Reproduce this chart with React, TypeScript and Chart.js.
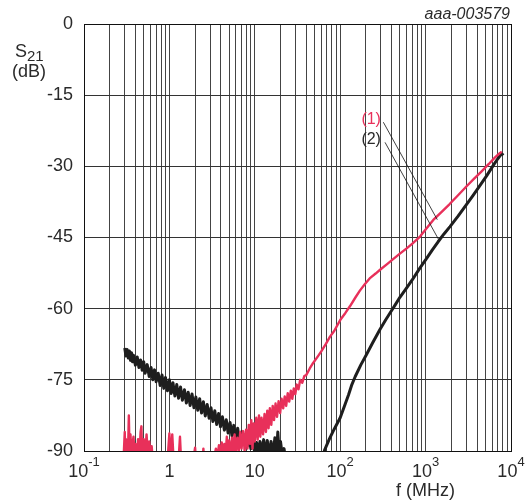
import { useEffect, useRef } from 'react';
import { Chart, registerables } from 'chart.js';

Chart.register(...registerables);

const FONT = '"Liberation Sans", Arial, Helvetica, sans-serif';
const RED = '#e8305a';
const BLACK = '#1e1e1e';
const GRID = '#444444';
const TEXT = '#2a2a2a';

// axis ticks
const yTicks = [0, -15, -30, -45, -60, -75, -90];
const xMajor = [0.1, 1, 10, 100, 1000, 10000];
const xTickBase = ['10', '1', '10', '10', '10', '10'];
const xTickExp = ['-1', '', '', '2', '3', '4'];
const xMinorMultipliers = [2, 3, 4, 5, 6, 7, 8, 9];

// curve (1): frequency (MHz) and S21 (dB)
const curve1Freq = [
  0.29, 0.3, 0.305, 0.31, 0.315, 0.32, 0.327, 0.335, 0.342, 0.35, 0.36, 0.37, 0.38, 0.39, 0.4,
  0.415, 0.43, 0.445, 0.46, 0.47, 0.48, 0.5, 0.52, 0.54, 0.56, 0.58, 0.6, 0.62, 0.64,
  0.95, 1.0, 1.03, 1.08, 1.12, 1.28, 1.33, 1.37, 1.9, 2.0, 2.05, 2.45, 2.5, 2.55,
  3.3, 3.5, 3.6, 3.8, 3.9, 4.1, 4.25, 4.4, 4.55, 4.7, 4.85, 5.0, 5.2, 5.4, 5.6, 5.8, 6.0,
  6.25, 6.5, 6.75, 7.0, 7.3, 7.6, 7.9, 8.2, 8.5, 8.8, 9.1, 9.4, 9.7, 10.0, 10.4, 10.8,
  11.2, 11.6, 12.0, 12.5, 13.0, 13.5, 14.0, 14.5, 15.0, 15.6, 16.2, 16.8, 17.5, 18.2,
  19.0, 19.8, 20.6, 21.5, 22.4, 23.3, 24.3, 25.3, 26.4, 27.5, 28.6, 29.8, 31.0, 32.5,
  34, 36, 38, 40, 44, 48, 55, 60, 68, 76, 85, 100, 115, 130, 150, 170, 195, 225, 260, 293,
  360, 420, 500, 600, 700, 860, 1000, 1230, 1500, 1900, 2400, 3020, 3700, 4500, 5500,
  6500, 7200, 7800,
];
const curve1Db = [
  -92, -86.0, -91, -87.5, -92, -88.0, -91, -82.5, -91, -86.5, -91, -88.5, -87.0, -91, -88.5,
  -91, -87.5, -91, -86.0, -84.8, -91, -87.5, -91, -86.5, -91, -88.0, -91, -89.0, -92,
  -92, -86.3, -92, -86.5, -92, -92, -87.0, -92, -92, -89.3, -92, -92, -89.5, -92,
  -92, -89.5, -92, -88.8, -91.5, -88.2, -91, -88.5, -91, -87.0, -90.5, -87.8, -91, -87.2, -90, -86.5, -90.5,
  -87.2, -90, -86.0, -89.5, -85.8, -90, -85.5, -89.5, -84.5, -88.5, -83.5, -89.5, -84.2, -88.0, -83.0, -87.6,
  -82.5, -87.0, -83.0, -86.5, -82.2, -86.0, -81.5, -85.2, -81.0, -84.5, -80.5, -83.5, -80.0, -82.8,
  -79.5, -82.0, -79.0, -81.0, -78.5, -80.5, -77.8, -79.6, -77.3, -79.0, -76.8, -78.0, -76.0, -77.0,
  -75.0, -75.6, -74.2, -74.0, -72.6, -71.5, -70.0, -69.0, -67.4, -65.9, -64.7, -62.4, -60.9, -59.5, -57.7, -56.2, -54.8, -53.5, -52.6, -51.8,
  -50.5, -49.5, -48.4, -47.3, -46.3, -44.8, -43.3, -41.3, -39.8, -38.0, -36.1, -34.2, -32.6, -31.1, -29.5,
  -28.1, -27.4, -26.9,
];

// curve (2): frequency (MHz) and S21 (dB); null = below the axis range
const curve2Freq = [
  0.3, 0.31, 0.32, 0.33, 0.34, 0.35, 0.36, 0.37, 0.38, 0.4, 0.42, 0.44, 0.46, 0.48, 0.5, 0.52,
  0.55, 0.58, 0.61, 0.64, 0.67, 0.7, 0.74, 0.78, 0.82, 0.86, 0.9, 0.95, 1.0, 1.05, 1.1, 1.16,
  1.22, 1.28, 1.35, 1.42, 1.5, 1.58, 1.66, 1.75, 1.84, 1.94, 2.04, 2.15, 2.26, 2.38, 2.5, 2.63,
  2.77, 2.92, 3.07, 3.23, 3.4, 3.58, 3.77, 3.97, 4.18, 4.4, 4.63, 4.87, 5.13, 5.4, 5.68, 5.98,
  6.3, 6.63, 6.98, 7.35, 7.74, 8.15, 8.6, 9.0, 9.5, 10, 10.5, 11, 11.5, 12, 12.7, 13.3, 14,
  14.8, 15.5, 16.3, 17.2, 18, 18.6, 19.3, 20, 21, 22, 23, 40,
  60, 66, 75, 85, 100, 115, 125, 137, 150, 175, 204, 240, 292, 340, 400, 437, 500, 600, 700,
  860, 1028, 1200, 1400, 1650, 1930, 2400, 3020, 3600, 4300, 5180, 6200, 7000, 7770, 8100,
];
const curve2Db = [
  -68.3, -70.0, -68.6, -70.4, -68.9, -70.9, -69.3, -71.2, -69.8, -71.9, -70.2, -72.4, -70.8, -73.0, -71.2, -73.6,
  -71.8, -74.3, -72.4, -75.0, -72.9, -75.4, -73.6, -76.2, -74.0, -76.8, -74.5, -77.3, -75.0, -77.9, -75.6, -78.4,
  -76.0, -78.9, -76.5, -79.3, -77.1, -79.9, -77.6, -80.4, -78.0, -80.9, -78.6, -81.4, -79.0, -82.0, -79.6, -82.6,
  -80.2, -83.1, -80.9, -83.8, -81.5, -84.4, -82.1, -84.9, -82.8, -85.6, -83.4, -86.2, -84.0, -86.8, -84.6, -87.4,
  -85.2, -88.0, -86.0, -88.5, -86.6, -89.0, -87.5, -89.5, -87.8, -90.5, -88.2, -91, -88.0, -90.5, -87.6, -90.8, -87.8,
  -91, -88.0, -91, -87.2, -90.5, -86.0, -90.5, -88.0, -91, -89.5, -92, null,
  -92, -89.7, -87.4, -85.4, -83.0, -80.0, -78.2, -76.0, -74.3, -71.8, -69.6, -67.2, -64.4, -62.4, -60.4, -59.3, -57.6, -55.6, -53.9,
  -51.4, -49.4, -47.6, -45.9, -44.2, -42.7, -40.5, -38.0, -36.1, -34.1, -32.0, -29.8, -28.4, -27.3, -27.7,
];

// curve labels with leader lines (data coordinates)
const labelTexts = ['(1)', '(2)'];
const labelColors = [RED, TEXT];
const labelFreq = [300, 300];
const labelDb = [-20.2, -24.4];
const leaderStartFreq = [320, 335];
const leaderStartDb = [-20.7, -24.95];
const leaderEndFreq = [1371, 1408];
const leaderEndDb = [-41.25, -45.3];

const figureId = 'aaa-003579';

const gridValues: number[] = [];
xMajor.forEach((d, i) => {
  gridValues.push(d);
  if (i < xMajor.length - 1) xMinorMultipliers.forEach((m) => gridValues.push(d * m));
});

const toPoints = (fs: number[], ds: (number | null)[]) => fs.map((f, i) => ({ x: f, y: ds[i] }));

const textPlugin = {
  id: 'texts',
  beforeDatasetsDraw(chart: any) {
    const { ctx, chartArea: a } = chart;
    ctx.save();
    ctx.strokeStyle = '#111';
    ctx.lineWidth = 1;
    ctx.strokeRect(Math.round(a.left) + 0.5, Math.round(a.top) + 0.5, Math.round(a.right - a.left), Math.round(a.bottom - a.top));
    ctx.restore();
  },
  afterDraw(chart: any) {
    const { ctx, chartArea: a } = chart;
    const xs = chart.scales.x;
    const ys = chart.scales.y;
    ctx.save();
    ctx.fillStyle = TEXT;
    ctx.textBaseline = 'alphabetic';
    // x tick labels with exponents
    const baseFont = `18px ${FONT}`;
    const expFont = `13px ${FONT}`;
    xMajor.forEach((v, i) => {
      const px = xs.getPixelForValue(v);
      ctx.font = baseFont;
      const wb = ctx.measureText(xTickBase[i]).width;
      ctx.font = expFont;
      const we = xTickExp[i] ? ctx.measureText(xTickExp[i]).width : 0;
      const start = px - (wb + we) / 2;
      ctx.textAlign = 'left';
      ctx.font = baseFont;
      ctx.fillText(xTickBase[i], start, a.bottom + 26);
      if (xTickExp[i]) {
        ctx.font = expFont;
        ctx.fillText(xTickExp[i], start + wb, a.bottom + 15);
      }
    });
    // x axis title
    ctx.font = `18px ${FONT}`;
    ctx.textAlign = 'center';
    ctx.fillText('f (MHz)', xs.getPixelForValue(1000), a.bottom + 45);
    // y axis title
    ctx.textAlign = 'left';
    ctx.font = `18px ${FONT}`;
    ctx.fillText('S', 15, 57);
    const sw = ctx.measureText('S').width;
    ctx.font = `15px ${FONT}`;
    ctx.fillText('21', 15 + sw, 61);
    ctx.font = `18px ${FONT}`;
    ctx.fillText('(dB)', 12, 77);
    // figure id
    ctx.font = `italic 16px ${FONT}`;
    ctx.textAlign = 'right';
    ctx.fillText(figureId, a.right - 1, 19);
    // curve labels + leader lines
    ctx.font = `16px ${FONT}`;
    ctx.textBaseline = 'middle';
    labelTexts.forEach((t, i) => {
      ctx.fillStyle = labelColors[i];
      ctx.textAlign = 'right';
      ctx.fillText(t, xs.getPixelForValue(labelFreq[i]), ys.getPixelForValue(labelDb[i]));
      ctx.beginPath();
      ctx.strokeStyle = '#111';
      ctx.lineWidth = 0.8;
      ctx.moveTo(xs.getPixelForValue(leaderStartFreq[i]), ys.getPixelForValue(leaderStartDb[i]));
      ctx.lineTo(xs.getPixelForValue(leaderEndFreq[i]), ys.getPixelForValue(leaderEndDb[i]));
      ctx.stroke();
    });
    ctx.restore();
  },
};

export default function App() {
  const ref = useRef<HTMLCanvasElement | null>(null);
  useEffect(() => {
    if (!ref.current) return;
    const chart = new Chart(ref.current, {
      type: 'scatter',
      data: {
        datasets: [
          {
            label: '(1)',
            data: toPoints(curve1Freq, curve1Db) as any,
            showLine: true,
            borderColor: RED,
            backgroundColor: RED,
            borderWidth: 2.4,
            pointRadius: 0,
            tension: 0,
            clip: 0 as any,
            borderJoinStyle: 'round',
          },
          {
            label: '(2)',
            data: toPoints(curve2Freq, curve2Db) as any,
            showLine: true,
            spanGaps: false,
            borderColor: BLACK,
            backgroundColor: BLACK,
            borderWidth: 3,
            pointRadius: 0,
            tension: 0,
            clip: 0 as any,
            borderJoinStyle: 'round',
          },
        ],
      },
      options: {
        animation: false,
        responsive: false,
        layout: { padding: { top: 24, right: 19, left: 0, bottom: 0 } },
        plugins: { legend: { display: false }, tooltip: { enabled: false }, title: { display: false } },
        scales: {
          x: {
            type: 'logarithmic',
            min: 0.1,
            max: 10000,
            afterBuildTicks: (s: any) => {
              s.ticks = gridValues.map((v) => ({ value: v }));
            },
            afterFit: (s: any) => {
              s.height = 51;
            },
            ticks: { display: false },
            grid: { color: GRID, lineWidth: 1, drawTicks: false },
            border: { display: true, color: '#111', width: 1 },
          },
          y: {
            type: 'linear',
            min: -90,
            max: 0,
            afterBuildTicks: (s: any) => {
              s.ticks = yTicks.map((v) => ({ value: v }));
            },
            afterFit: (s: any) => {
              s.width = 84;
            },
            ticks: { font: { family: FONT, size: 18 }, color: TEXT, padding: 11 },
            grid: { color: '#333', lineWidth: 1, drawTicks: false },
            border: { display: true, color: '#111', width: 1 },
          },
        },
      },
      plugins: [textPlugin],
    });
    return () => chart.destroy();
  }, []);
  return (
    <div style={{ position: 'absolute', left: 0, top: 0, width: 530, height: 502, background: '#fff' }}>
      <canvas ref={ref} width={530} height={502} style={{ width: 530, height: 502, display: 'block' }} />
    </div>
  );
}
